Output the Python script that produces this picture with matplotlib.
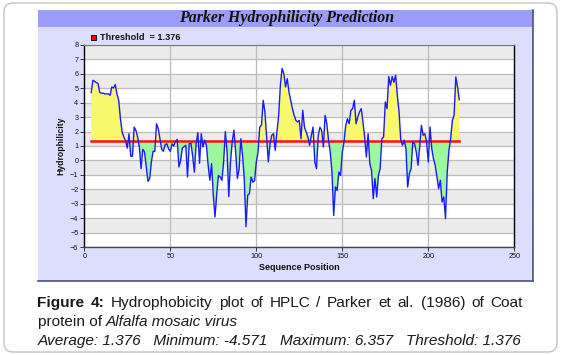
import matplotlib
matplotlib.use('Agg')
import matplotlib.pyplot as plt
import numpy as np
from matplotlib.patches import Rectangle, FancyBboxPatch

# ---------------- data ----------------
positions = list(range(4, 219))
scores = [
    4.69, 5.54, 5.47, 5.38, 5.31, 4.69, 4.65, 4.65, 4.60, 4.60,   # 4-13
    4.60, 4.50, 5.08, 5.00, 5.24, 4.60, 4.16, 2.90, 1.97, 1.62,   # 14-23
    1.35, 0.86, 1.85, 0.29, 0.29, 2.31, 2.08, 1.62, 0.93, -0.57,  # 24-33
    0.77, 0.60, -0.40, -1.44, -1.26, -0.10, 0.63, 0.63, 2.54, 2.20,  # 34-43
    1.50, 0.77, 0.63, 1.10, 1.15, 0.80, 0.63, 1.15, 1.00, 1.30,   # 44-53
    1.46, -0.45, 0.00, 0.86, 0.95, 1.05, -1.14, 1.15, 1.20, 0.30,  # 54-63
    -0.80, 1.15, 1.92, -0.20, 1.85, 0.93, 1.40, 1.05, -0.33, -1.37,  # 64-73
    -0.22, -2.40, -3.90, -2.30, -1.03, -1.14, -1.37, -0.10, 2.00, 0.60,  # 74-83
    -2.50, -0.10, 1.30, 2.10, 0.60, -1.25, -0.60, 1.50, 0.35, -1.25,  # 84-93
    -4.571, -2.40, -2.30, -1.14, -1.50, -1.40, -0.10, 0.58, 2.31, 2.43,  # 94-103
    4.16, 3.35, 1.62, -0.10, 1.15, 1.74, 1.85, 0.70, 2.00, 3.10,  # 104-113
    5.20, 6.357, 6.00, 5.08, 5.65, 4.73, 4.16, 3.58, 3.12, 2.77,  # 114-123
    2.66, 2.77, 1.50, 3.47, 2.31, 1.97, 1.62, 1.05, 1.74, 2.31,   # 124-133
    -0.10, -0.57, 1.70, 2.30, 2.08, 0.93, 3.12, 2.54, 1.40, 0.58,  # 134-143
    -0.80, -3.80, -1.83, -2.07, -0.80, -1.03, 0.58, 1.28, 2.43, 2.89,  # 144-153
    2.54, 3.47, 3.58, 4.16, 2.54, 3.00, 3.35, 3.58, 2.66, 1.60,   # 154-163
    0.23, 1.85, -0.22, -0.70, -2.64, -1.26, -2.52, -1.03, -0.57, 1.50,  # 164-173
    1.62, 4.04, 3.58, 5.80, 5.20, 5.80, 5.40, 5.90, 4.50, 3.35,   # 174-183
    1.40, 1.05, 1.40, 0.82, -1.83, -0.91, -0.57, 1.28, 1.15, 0.58,  # 184-193
    -0.33, 0.93, 2.43, 1.74, 1.85, 1.28, -0.10, 2.31, 0.82, 0.12,  # 194-203
    -0.33, -1.14, -1.95, -1.37, -2.87, -2.52, -4.02, -0.80, 0.70, 1.50,  # 204-213
    2.77, 3.12, 5.77, 5.08, 4.20,                                  # 214-218
]
threshold = 1.376
x_ticks = [0, 50, 100, 150, 200, 250]
y_ticks = list(range(-6, 9))
title = "Parker Hydrophilicity Prediction"
legend_label = "Threshold  = 1.376"
x_label = "Sequence Position"
y_label = "Hydrophilicity"
caption1 = [("Figure", "bold"), ("4:", "bold"), ("Hydrophobicity", "normal"), ("plot", "normal"),
            ("of", "normal"), ("HPLC", "normal"), ("/", "normal"), ("Parker", "normal"),
            ("et", "normal"), ("al.", "normal"), ("(1986)", "normal"), ("of", "normal"),
            ("Coat", "normal")]
caption2 = [("protein of ", "normal"), ("Alfalfa mosaic virus", "italic")]
caption3 = "Average: 1.376   Minimum: -4.571   Maximum: 6.357   Threshold: 1.376"

# ---------------- figure ----------------
W, H = 564, 355
fig = plt.figure(figsize=(W / 100, H / 100), dpi=100)
fig.patch.set_facecolor('white')

def fx(px):
    return px / W

def fy(py):
    return 1 - py / H

# outer rounded frame
frame = FancyBboxPatch((fx(4), fy(352)), fx(553), 349 / H,
                       boxstyle='round,pad=0,rounding_size=0.016',
                       mutation_aspect=W / H,
                       transform=fig.transFigure, fc='white', ec='#c4c4c4', lw=1.0, zorder=-10)
fig.add_artist(frame)

# chart panel
panel = Rectangle((fx(38), fy(281)), fx(495), 271 / H, transform=fig.transFigure,
                  fc='#ddddfd', ec='none', zorder=-9)
fig.add_artist(panel)
titlebar = Rectangle((fx(38), fy(27)), fx(495), 17 / H, transform=fig.transFigure,
                     fc='#9c9cfa', ec='none', zorder=-8)
fig.add_artist(titlebar)
fig.add_artist(plt.Line2D([fx(533), fx(533)], [fy(10), fy(281)], transform=fig.transFigure,
                          color='#505078', lw=1.2, zorder=-7))
fig.add_artist(plt.Line2D([fx(38), fx(533)], [fy(281), fy(281)], transform=fig.transFigure,
                          color='#505078', lw=1.2, zorder=-7))

fig.text(fx(287), fy(18.5), title, ha='center', va='center', fontsize=11.4,
         family='Liberation Serif', weight='bold', style='italic', color='#111111')

# legend
fig.add_artist(Rectangle((fx(91), fy(39.5)), fx(5), 5 / H, transform=fig.transFigure,
                         fc='#ff0000', ec='#000000', lw=0.6))
fig.text(fx(100), fy(37), legend_label, ha='left', va='center', fontsize=6.6,
         family='Liberation Sans', weight='bold', color='#111111')

# ---------------- axes ----------------
ax = fig.add_axes([fx(84.3), fy(247.3), 430 / W, 202.6 / H])
ax.set_zorder(5)
ax.set_facecolor('white')
ax.set_xlim(0, 250)
ax.set_ylim(-6, 8)
for k in range(-6, 8):
    if (k + 6) % 2 == 1:
        ax.axhspan(k, k + 1, color='#ececec', lw=0, zorder=0)
for k in y_ticks:
    ax.axhline(k, color='#bcbcbc', lw=0.9, zorder=0.5)
for k in x_ticks[1:-1]:
    ax.axvline(k, color='#bcbcbc', lw=0.9, zorder=0.5)

x = np.array(positions, dtype=float)
y = np.array(scores, dtype=float)
ax.fill_between(x, y, threshold, where=y >= threshold, interpolate=True,
                color='#f8f86c', lw=0, zorder=1)
ax.fill_between(x, y, threshold, where=y <= threshold, interpolate=True,
                color='#9cf89c', lw=0, zorder=1)
ax.plot([positions[0], positions[-1]], [threshold, threshold], color='#ff1010', lw=1.8, zorder=2)
ax.plot(x, y, color='#1a1aff', lw=1.0, zorder=3)

ax.set_xticks(x_ticks)
ax.set_yticks(y_ticks)
ax.tick_params(axis='both', length=3, width=0.7, pad=1.2, labelsize=5.2,
               labelcolor='#111111', color='#333333')
for lab in ax.get_xticklabels() + ax.get_yticklabels():
    lab.set_family('Liberation Sans')
for side in ['left', 'right']:
    ax.spines[side].set_color('#000000')
    ax.spines[side].set_linewidth(1.0)
ax.spines['bottom'].set_color('#444444')
ax.spines['bottom'].set_linewidth(1.0)
ax.spines['top'].set_color('#777777')
ax.spines['top'].set_linewidth(0.8)

fig.text(fx(60.5), fy(146), y_label, rotation=90, ha='center', va='center', fontsize=6.2,
         family='Liberation Sans', weight='bold', color='#111111')
fig.text(fx(299.3), fy(267.7), x_label, ha='center', va='center', fontsize=6.5,
         family='Liberation Sans', weight='bold', color='#111111')

# ---------------- caption ----------------
renderer = fig.canvas.get_renderer()
CAP = dict(family='Liberation Sans', fontsize=11.1, color='#1a1a1a', va='center', ha='left')

def width_of(t):
    return t.get_window_extent(renderer).width

def place_tokens(tokens, ypx, x0, x1=None):
    arts = []
    for txt, sty in tokens:
        kw = dict(CAP)
        if sty == 'bold':
            kw['weight'] = 'bold'
        elif sty == 'italic':
            kw['style'] = 'italic'
        arts.append(fig.text(fx(x0), fy(ypx), txt, **kw))
    widths = [width_of(a) for a in arts]
    if x1 is not None and len(arts) > 1:
        gap = (x1 - x0 - sum(widths)) / (len(arts) - 1)
    else:
        gap = 0.0
    cur = x0
    for a, w in zip(arts, widths):
        a.set_x(fx(cur))
        cur += w + gap

place_tokens(caption1, 303, 37.5, 523)
place_tokens(caption2, 322, 37.5)
fig.text(fx(37.5), fy(341), caption3, style='italic', **CAP)

fig.savefig('out.png', dpi=100, facecolor='white')
